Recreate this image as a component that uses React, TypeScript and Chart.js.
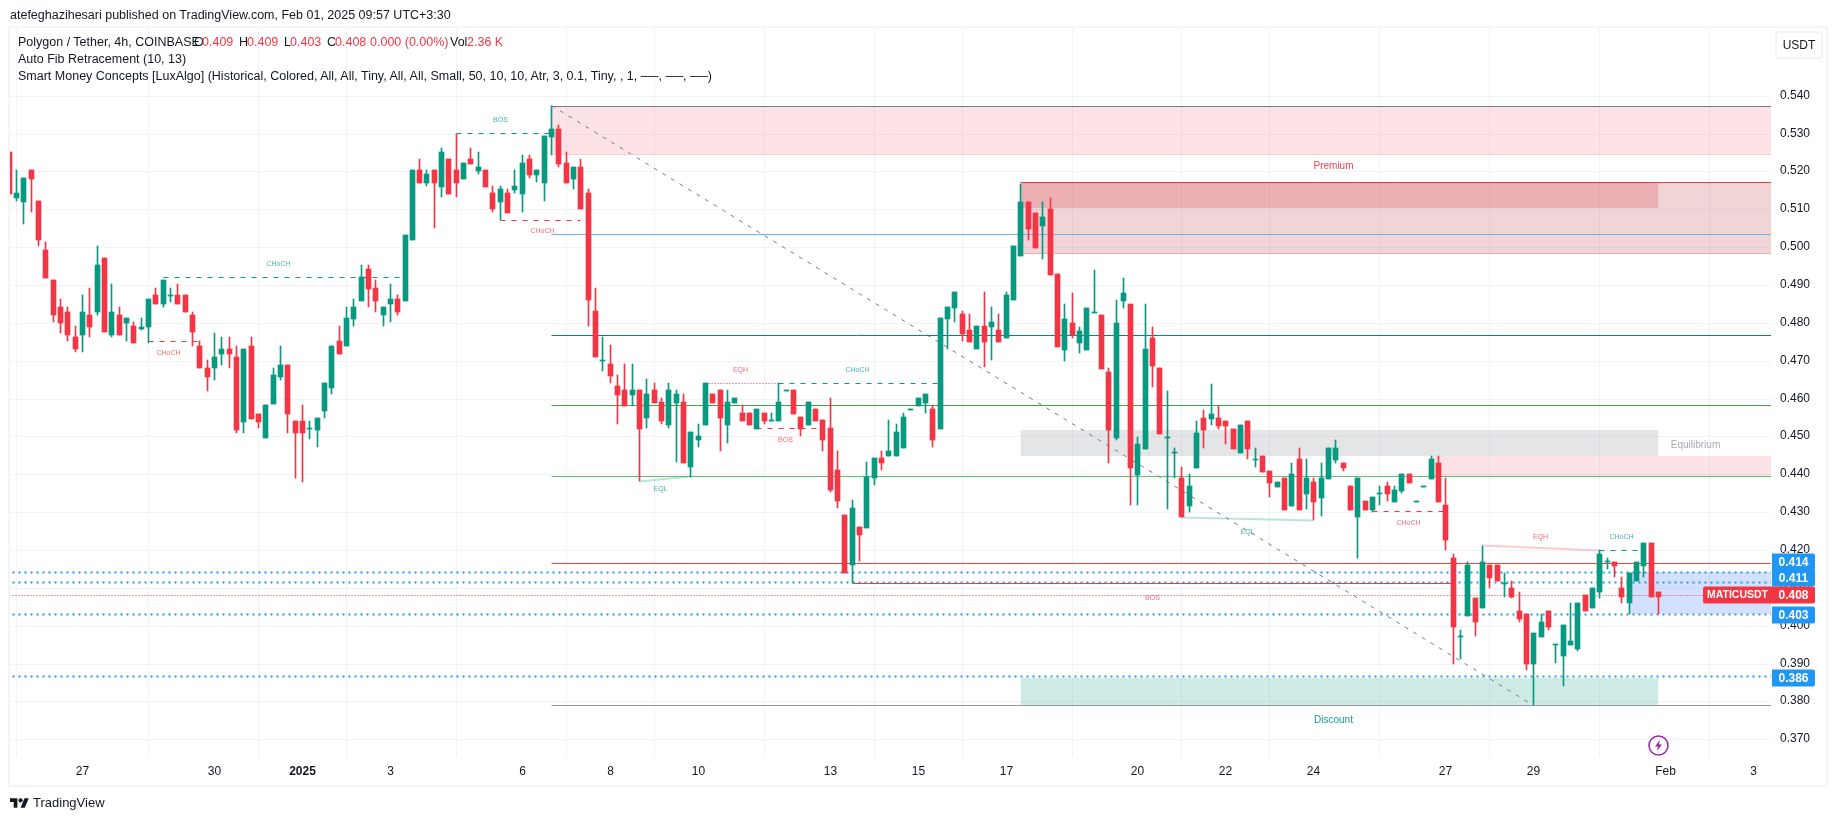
import React, { useEffect, useRef } from "react";
import { Chart, registerables, LinearScale } from "chart.js";

Chart.register(...registerables);

// ---- candle values: first entry is bar -10, bar 0 = Dec 27 (6 bars per day) ----
const firstBar = -10;
const opens = [
.5251,.5129,.5120,.5203,.5121,.4992,.4912,.4841,.4830,.4762,
.4769,.4822,.4828,.4971,.4769,.4822,.4799,.4791,.4785,.4788,
.4873,.4849,.4870,.4873,.4873,.4822,.4740,.4682,.4680,.4719,
.4732,.4711,.4539,.4740,.4560,.4497,.4587,.4658,.4690,.4542,
.4542,.4519,.4518,.4568,.4629,.4751,.4738,.4809,.4859,.4941,
.4891,.4820,.4849,.4862,.4859,.5018,.5203,.5169,.5203,.5158,
.5232,.5203,.5180,.5232,.5201,.5203,.5143,.5119,.5143,.5150,
.5140,.5232,.5190,.5169,.5291,.5312,.5222,.5180,.5212,.5143,
.4831,.4700,.4691,.4633,.4623,.4610,.4623,.4549,.4623,.4591,
.4530,.4588,.4591,.4419,.4491,.4530,.4612,.4623,.4530,.4588,
.4562,.4562,.4520,.4562,.4542,.4541,.4620,.4623,.4551,.4530,
.4573,.4543,.4522,.4411,.4293,.4161,.4261,.4258,.4390,.4443,
.4448,.4448,.4470,.4571,.4580,.4588,.4573,.4520,.4810,.4839,
.4823,.4781,.4731,.4792,.4789,.4781,.4760,.4860,.4976,.5119,
.5090,.5056,.5101,.4929,.4728,.4800,.4747,.4728,.4827,.4821,
.4670,.4496,.4858,.4850,.4398,.4467,.4760,.4681,.4497,.4457,
.4390,.4316,.4416,.4549,.4546,.4549,.4541,.4519,.4456,.4541,
.4438,.4448,.4409,.4366,.4390,.4316,.4440,.4348,.4379,.4337,
.4387,.4438,.4430,.4369,.4287,.4329,.4305,.4348,.4369,.4326,
.4356,.4401,.4327,.4367,.4387,.4430,.4319,.4180,.3970,.4027,
.4072,.4048,.4161,.4161,.4110,.4101,.4040,.4030,.3898,.3969,
.4040,.3948,.3919,.3948,.3938,.4080,.4048,.4088,.4168,.4169,
.4101,.4059,.4117,.4159,.4219,.4090];
const highs = [
.5251,.5203,.5182,.5203,.5121,.5013,.4912,.4862,.4841,.4791,
.4873,.4891,.5002,.4971,.4902,.4841,.4812,.4801,.4812,.4862,
.4891,.4912,.4891,.4902,.4873,.4830,.4751,.4701,.4772,.4762,
.4762,.4740,.4732,.4762,.4560,.4582,.4682,.4740,.4690,.4542,
.4582,.4542,.4550,.4640,.4740,.4791,.4841,.4862,.4952,.4952,
.4912,.4841,.4902,.4873,.5031,.5203,.5232,.5203,.5203,.5262,
.5232,.5300,.5222,.5262,.5251,.5203,.5161,.5161,.5153,.5203,
.5243,.5243,.5203,.5293,.5373,.5323,.5251,.5212,.5233,.5154,
.4892,.4763,.4742,.4662,.4691,.4691,.4623,.4652,.4641,.4602,
.4641,.4623,.4612,.4512,.4533,.4641,.4612,.4623,.4623,.4602,
.4583,.4562,.4573,.4562,.4562,.4641,.4622,.4623,.4551,.4591,
.4573,.4543,.4602,.4462,.4293,.4332,.4261,.4433,.4443,.4462,
.4543,.4533,.4562,.4573,.4602,.4612,.4583,.4813,.4842,.4882,
.4831,.4823,.4792,.4882,.4842,.4823,.4882,.5003,.5168,.5119,
.5090,.5119,.5130,.4929,.4850,.4879,.4789,.4839,.4939,.4821,
.4681,.4860,.4918,.4850,.4498,.4850,.4789,.4681,.4620,.4469,
.4419,.4401,.4541,.4570,.4638,.4580,.4541,.4519,.4530,.4541,
.4469,.4448,.4409,.4379,.4390,.4430,.4469,.4440,.4390,.4430,
.4469,.4490,.4430,.4369,.4390,.4329,.4340,.4369,.4379,.4369,
.4401,.4401,.4329,.4369,.4448,.4448,.4390,.4190,.3990,.4169,
.4072,.4211,.4161,.4161,.4140,.4119,.4090,.4030,.3980,.4030,
.4040,.3950,.4001,.4061,.4061,.4080,.4101,.4201,.4180,.4169,
.4130,.4140,.4169,.4219,.4219,.4090];
const lows = [
.5141,.5121,.5060,.5092,.5002,.4918,.4801,.4772,.4751,.4722,
.4722,.4762,.4822,.4777,.4762,.4769,.4751,.4748,.4780,.4748,
.4849,.4841,.4854,.4849,.4828,.4740,.4680,.4621,.4650,.4690,
.4682,.4510,.4510,.4547,.4521,.4497,.4587,.4650,.4510,.4391,
.4381,.4492,.4471,.4550,.4611,.4719,.4738,.4791,.4859,.4841,
.4830,.4791,.4801,.4822,.4859,.5018,.5169,.5161,.5050,.5132,
.5140,.5132,.5180,.5219,.5193,.5158,.5092,.5071,.5090,.5143,
.5092,.5182,.5171,.5122,.5243,.5212,.5169,.5154,.5101,.4792,
.4710,.4673,.4641,.4533,.4580,.4580,.4382,.4522,.4588,.4533,
.4522,.4433,.4430,.4393,.4472,.4530,.4588,.4462,.4483,.4588,
.4541,.4530,.4520,.4533,.4542,.4541,.4620,.4559,.4501,.4530,
.4541,.4462,.4353,.4311,.4140,.4113,.4171,.4258,.4372,.4411,
.4448,.4448,.4470,.4571,.4580,.4562,.4472,.4520,.4731,.4802,
.4752,.4749,.4789,.4683,.4702,.4749,.4760,.4860,.4976,.5019,
.4998,.4968,.4926,.4736,.4699,.4760,.4720,.4728,.4827,.4678,
.4430,.4490,.4839,.4319,.4319,.4467,.4630,.4506,.4308,.4390,
.4287,.4300,.4416,.4469,.4530,.4519,.4480,.4467,.4456,.4440,
.4419,.4406,.4340,.4366,.4305,.4316,.4305,.4308,.4279,.4290,
.4387,.4430,.4409,.4305,.4179,.4305,.4300,.4319,.4329,.4326,
.4350,.4377,.4327,.4367,.4387,.4327,.4201,.3899,.3911,.4027,
.3972,.4048,.4101,.4117,.4077,.4072,.4011,.3882,.3790,.3969,
.3990,.3901,.3840,.3948,.3932,.4038,.4048,.4072,.4151,.4130,
.4061,.4030,.4117,.4130,.4077,.4030];
const closes = [
.5141,.5143,.5182,.5180,.5018,.4918,.4820,.4799,.4769,.4730,
.4830,.4788,.4952,.4777,.4830,.4769,.4812,.4748,.4788,.4862,
.4849,.4912,.4872,.4849,.4828,.4777,.4680,.4658,.4711,.4732,
.4719,.4518,.4732,.4547,.4539,.4582,.4661,.4690,.4558,.4508,
.4508,.4521,.4550,.4640,.4740,.4719,.4812,.4841,.4920,.4889,
.4859,.4841,.4862,.4828,.5031,.5203,.5169,.5193,.5169,.5251,
.5140,.5169,.5222,.5219,.5211,.5158,.5100,.5153,.5090,.5161,
.5222,.5190,.5203,.5293,.5312,.5220,.5169,.5212,.5101,.4860,
.4710,.4702,.4660,.4610,.4580,.4623,.4520,.4612,.4588,.4541,
.4623,.4612,.4430,.4512,.4501,.4641,.4588,.4549,.4591,.4602,
.4541,.4530,.4573,.4541,.4543,.4591,.4622,.4559,.4520,.4591,
.4541,.4491,.4359,.4330,.4140,.4311,.4240,.4393,.4443,.4430,
.4462,.4512,.4551,.4573,.4602,.4612,.4491,.4813,.4842,.4882,
.4771,.4749,.4792,.4749,.4802,.4749,.4874,.5003,.5119,.5048,
.4998,.5079,.4926,.4736,.4810,.4768,.4778,.4839,.4828,.4678,
.4517,.4799,.4879,.4416,.4480,.4731,.4686,.4506,.4498,.4459,
.4287,.4369,.4509,.4517,.4559,.4527,.4527,.4467,.4530,.4467,
.4440,.4406,.4377,.4379,.4305,.4401,.4305,.4390,.4327,.4390,
.4469,.4469,.4416,.4305,.4390,.4305,.4340,.4350,.4348,.4358,
.4401,.4377,.4329,.4369,.4440,.4327,.4227,.3998,.3972,.4161,
.4009,.4169,.4127,.4117,.4111,.4077,.4019,.3898,.3980,.4011,
.3998,.3950,.4001,.3961,.4061,.4038,.4101,.4190,.4169,.4159,
.4077,.4140,.4169,.4219,.4077,.4077];

// ---- axes ----
const priceTicks = [0.37,0.38,0.39,0.40,0.41,0.42,0.43,0.44,0.45,0.46,0.47,0.48,0.49,0.50,0.51,0.52,0.53,0.54];
const dayBars = [0,18,30,42,60,72,84,102,114,126,144,156,168,186,198,216,228];
const dayLabels = ["27","30","2025","3","6","8","10","13","15","17","20","22","24","27","29","Feb","3"];
const boldDayBars = [30];
const barMin = -9.89, barMax = 230.36, priceMin = 0.36507, priceMax = 0.55788;

// ---- zones: [fromBar, toBar, priceHigh, priceLow, colour] ----
const zoneRows: [number, number, number, number, string][] = [
  [64, 232, 0.5372, 0.5244, "rgba(242,54,69,0.14)"],
  [128, 232, 0.5171, 0.4984, "rgba(180,40,50,0.2)"],
  [128, 215, 0.5171, 0.5103, "rgba(240,105,114,0.3)"],
  [128, 215, 0.4517, 0.4449, "rgba(120,123,134,0.2)"],
  [184, 232, 0.4449, 0.4395, "rgba(242,54,69,0.14)"],
  [128, 215, 0.3863, 0.379, "rgba(8,153,129,0.2)"],
  [211, 232, 0.4141, 0.4031, "rgba(41,98,255,0.2)"],
];

// ---- lines: [fromBar, priceA, toBar, priceB, colour, width, dash] ----
const GREEN = "#089981", RED = "#F23645", BLUE = "#2196F3";
const lineRows: [number, number, number, number, string, number, number[]][] = [
  [64, 0.5372, 232, 0.5372, "#787B86", 1, []],
  [64, 0.5244, 232, 0.5244, "#F8CBCE", 1, []],
  [128, 0.5171, 232, 0.5171, RED, 1, []],
  [128, 0.4984, 232, 0.4984, "#E2AEB2", 1, []],
  [64, 0.5034, 232, 0.5034, "#64B5F6", 1, []],
  [64, 0.4767, 232, 0.4767, "#00897B", 1, []],
  [64, 0.4582, 232, 0.4582, "#43A047", 1, []],
  [64, 0.4395, 232, 0.4395, "#66BB6A", 1, []],
  [64, 0.4165, 232, 0.4165, "#F44336", 1, []],
  [64, 0.379, 232, 0.379, "#9598A1", 1, []],
  [105, 0.4112, 187, 0.4112, RED, 1, []],
  [64, 0.5373, 198, 0.379, "#787B86", 1, [4, 6]],
  [-12, 0.414, 232, 0.414, BLUE, 2, [2, 4]],
  [-12, 0.4114, 232, 0.4114, BLUE, 2, [2, 4]],
  [-12, 0.4031, 232, 0.4031, BLUE, 2, [2, 4]],
  [-12, 0.3865, 232, 0.3865, BLUE, 2, [2, 4]],
  [-12, 0.4081, 232, 0.4081, RED, 1, [1, 2]],
  [51, 0.5301, 64, 0.5301, GREEN, 1, [5, 6]],
  [11, 0.492, 44, 0.492, GREEN, 1, [5, 6]],
  [9, 0.4751, 16, 0.4751, RED, 1, [5, 6]],
  [57, 0.5071, 68, 0.5071, RED, 1, [5, 6]],
  [85, 0.4641, 95, 0.4641, RED, 1, [1, 2]],
  [95, 0.4641, 117, 0.4641, GREEN, 1, [5, 6]],
  [92, 0.4521, 101, 0.4521, RED, 1, [5, 6]],
  [76, 0.4382, 83, 0.4393, "rgba(8,153,129,0.55)", 2, [1, 1]],
  [150, 0.4287, 168, 0.4279, "rgba(8,153,129,0.55)", 2, [1, 1]],
  [176, 0.4302, 186, 0.4302, RED, 1, [5, 6]],
  [191, 0.4211, 207, 0.42, "rgba(242,54,69,0.5)", 2, [1, 1]],
  [207, 0.42, 213, 0.42, GREEN, 1, [5, 6]],
];

// ---- chart texts: [text, bar, price, colour, font px] ----
const noteRows: [string, number, number, string, number][] = [
  ["BOS", 57, 0.5335, GREEN, 7],
  ["CHoCH", 26.8, 0.4955, GREEN, 7],
  ["CHoCH", 11.8, 0.472, RED, 7],
  ["CHoCH", 62.8, 0.5042, RED, 7],
  ["EQH", 89.8, 0.4675, RED, 7],
  ["CHoCH", 105.8, 0.4675, GREEN, 7],
  ["BOS", 95.9, 0.449, RED, 7],
  ["EQL", 78.9, 0.436, GREEN, 7],
  ["EQL", 158.9, 0.4248, GREEN, 7],
  ["CHoCH", 180.9, 0.4271, RED, 7],
  ["EQH", 198.9, 0.4234, RED, 7],
  ["CHoCH", 209.9, 0.4234, GREEN, 7],
  ["BOS", 146, 0.4073, RED, 7],
  ["Premium", 170.7, 0.5214, RED, 10],
  ["Equilibrium", 220, 0.4478, "#A3A6AF", 10],
  ["Discount", 170.7, 0.3752, GREEN, 10],
];

// ---- price tags on the axis: [text, anchor price, colour] ----
const tagRows: [string, number, string][] = [
  ["0.414", 0.4169, BLUE],
  ["0.411", 0.4125, BLUE],
  ["0.408", 0.4081, RED],
  ["0.403", 0.4029, BLUE],
  ["0.386", 0.3863, BLUE],
];
const symbolTag = "MATICUSDT";
const symbolTagPrice = 0.4081;

const FONT = '"Liberation Sans", Arial, sans-serif';

class SnapX extends LinearScale {
  static id = "snapx";
  getPixelForValue(v: number) { return Math.floor(super.getPixelForValue(v)) + 0.5; }
}
class SnapY extends LinearScale {
  static id = "snapy";
  getPixelForValue(v: number) { return Math.round(super.getPixelForValue(v)); }
}
class SnapYLine extends LinearScale {
  static id = "snapyline";
  getPixelForValue(v: number) { return Math.floor(super.getPixelForValue(v)) + 0.5; }
}
Chart.register(SnapX, SnapY, SnapYLine);

const overlay = {
  id: "overlay",
  afterDatasetsDraw(chart: any) {
    const { ctx, scales } = chart;
    const x = scales.x, y = scales.y;
    ctx.save();
    ctx.textAlign = "center";
    ctx.textBaseline = "middle";
    for (const [t, b, p, c, s] of noteRows) {
      ctx.font = `${s}px ${FONT}`;
      ctx.fillStyle = c;
      ctx.globalAlpha = s < 8 ? 0.75 : 0.95;
      ctx.fillText(t, x.getPixelForValue(b), y.getPixelForValue(p));
    }
    ctx.globalAlpha = 1;
    const right = x.right;
    for (const [t, p, c] of tagRows) {
      const cy = y.getPixelForValue(p);
      ctx.fillStyle = c;
      ctx.beginPath();
      ctx.roundRect(right + 1, cy - 8.5, 43, 17, [0, 2, 2, 0]);
      ctx.fill();
      ctx.fillStyle = "#fff";
      ctx.font = `bold 12px ${FONT}`;
      ctx.fillText(t, right + 22.5, cy + 0.5);
    }
    const sy = y.getPixelForValue(symbolTagPrice);
    ctx.fillStyle = RED;
    ctx.beginPath();
    ctx.roundRect(right - 68, sy - 8.5, 69, 17, [2, 0, 0, 2]);
    ctx.fill();
    ctx.fillStyle = "#fff";
    ctx.font = `bold 10.5px ${FONT}`;
    ctx.fillText(symbolTag, right - 33.5, sy + 0.5);
    ctx.restore();
  },
};

const zoneSets = zoneRows.map(([a, b, hi, lo, c]) => ({
  type: "line" as const,
  data: [{ x: a, y: hi }, { x: b, y: hi }],
  borderWidth: 0,
  borderColor: "rgba(0,0,0,0)",
  backgroundColor: c,
  fill: { value: lo },
  pointRadius: 0,
  order: 10,
  xAxisID: "x",
  yAxisID: "y",
}));
const lineSets = lineRows.map(([a, p, b, q, c, w, d]) => ({
  type: "line" as const,
  data: [{ x: a, y: p }, { x: b, y: q }],
  borderColor: c,
  borderWidth: w,
  borderDash: d,
  fill: false,
  pointRadius: 0,
  order: 5,
  xAxisID: "x",
  yAxisID: "yLine",
}));
const candleColors = opens.map((o, i) => (closes[i] >= o ? GREEN : RED));

const labelStyle: React.CSSProperties = { position: "absolute", whiteSpace: "pre", fontFamily: FONT, fontSize: 12.5, color: "#131722", lineHeight: "16px" };

function Txt({ x, y, c, children, s }: any) {
  return <span style={{ ...labelStyle, left: x, top: y - 8, color: c || "#131722", fontSize: s || 12.5 }}>{children}</span>;
}

export default function App() {
  const ref = useRef<HTMLCanvasElement>(null);
  useEffect(() => {
    document.body.style.margin = "0";
    document.body.style.background = "#fff";
    const chart = new Chart(ref.current!, {
      type: "bar",
      plugins: [overlay],
      data: {
        datasets: [
          ...zoneSets,
          ...lineSets,
          {
            type: "bar",
            data: lows.map((l, i) => ({ x: firstBar + i, y: [l, highs[i]] })),
            backgroundColor: candleColors,
            barThickness: 1,
            grouped: false,
            minBarLength: 1,
            order: 2,
            xAxisID: "x",
            yAxisID: "y",
          },
          {
            type: "bar",
            data: opens.map((o, i) => ({ x: firstBar + i, y: [o, closes[i]] })),
            backgroundColor: candleColors,
            barThickness: 5,
            grouped: false,
            minBarLength: 1,
            order: 1,
            xAxisID: "x",
            yAxisID: "y",
          },
        ] as any,
      },
      options: {
        responsive: false,
        animation: false,
        events: [],
        layout: { padding: { left: 10, top: 28, right: 0, bottom: 0 } },
        plugins: { legend: { display: false }, tooltip: { enabled: false } },
        scales: {
          x: {
            type: "snapx" as any,
            min: barMin,
            max: barMax,
            offset: false,
            afterBuildTicks: (s: any) => { s.ticks = dayBars.map((v) => ({ value: v })); },
            afterFit: (s: any) => { s.height = 63; },
            grid: { color: "#F0F3FA", drawTicks: false },
            border: { display: false },
            ticks: {
              autoSkip: false,
              maxRotation: 0,
              padding: 6,
              color: "#131722",
              font: (c: any) => ({ family: FONT, size: 12, weight: boldDayBars.includes(c.tick?.value) ? "bold" : "normal" }),
              callback: (v: any) => dayLabels[dayBars.indexOf(v)] ?? "",
            },
          },
          y: {
            type: "snapy" as any,
            position: "right",
            min: priceMin,
            max: priceMax,
            afterBuildTicks: (s: any) => { s.ticks = priceTicks.map((v) => ({ value: v })); },
            afterFit: (s: any) => { s.width = 64; },
            grid: { color: "#F0F3FA", drawTicks: false },
            border: { display: false },
            ticks: {
              padding: 9,
              color: "#131722",
              font: { family: FONT, size: 12 },
              callback: (v: any) => Number(v).toFixed(3),
            },
          },
          yLine: {
            type: "snapyline" as any,
            position: "right",
            display: false,
            min: priceMin,
            max: priceMax,
          },
        },
      } as any,
    });
    return () => chart.destroy();
  }, []);
  return (
    <div style={{ position: "absolute", left: 0, top: 0, width: 1835, height: 821, overflow: "hidden", background: "#fff" }}>
      <div style={{ position: "absolute", left: 8, top: 26, width: 1816, height: 757, border: "2px solid #F3F4F6" }} />
      <canvas ref={ref} width={1835} height={821} style={{ position: "absolute", left: 0, top: 0, width: 1835, height: 821 }} />
      <Txt x={10} y={15}>atefeghazihesari published on TradingView.com, Feb 01, 2025 09:57 UTC+3:30</Txt>
      <Txt x={18} y={42}>Polygon / Tether, 4h, COINBASE</Txt>
      <Txt x={194} y={42}>O</Txt><Txt x={202} y={42} c={RED}>0.409</Txt>
      <Txt x={239} y={42}>H</Txt><Txt x={247} y={42} c={RED}>0.409</Txt>
      <Txt x={284} y={42}>L</Txt><Txt x={290} y={42} c={RED}>0.403</Txt>
      <Txt x={327} y={42}>C</Txt><Txt x={335} y={42} c={RED}>0.408</Txt>
      <Txt x={370} y={42} c={RED}>0.000 (0.00%)</Txt>
      <Txt x={450} y={42}>Vol</Txt><Txt x={467} y={42} c={RED}>2.36 K</Txt>
      <Txt x={18} y={59}>Auto Fib Retracement (10, 13)</Txt>
      <Txt x={18} y={76}>Smart Money Concepts [LuxAlgo] (Historical, Colored, All, All, Tiny, All, All, Small, 50, 10, 10, Atr, 3, 0.1, Tiny, , 1, ──, ──, ──)</Txt>
      <div style={{ position: "absolute", left: 1775, top: 31, width: 44, height: 24, border: "2px solid #F0F3FA", borderRadius: 4, fontFamily: FONT, fontSize: 12, color: "#131722", textAlign: "center", lineHeight: "24px" }}>USDT</div>
      <svg style={{ position: "absolute", left: 10, top: 797 }} width={19} height={12} viewBox="0 4 36 18">
        <path d="M14 22H7V11H0V4h14v18zM28 22h-8l7.5-18h8L28 22z" fill="#131722" />
        <circle cx={20} cy={8} r={4} fill="#131722" />
      </svg>
      <Txt x={33} y={803} s={13}>TradingView</Txt>
      <svg style={{ position: "absolute", left: 1648, top: 735 }} width={21} height={21} viewBox="0 0 21 21">
        <circle cx={10.5} cy={10.5} r={9.5} fill="none" stroke="#9C27B0" strokeWidth={1.6} />
        <path d="M12 5l-5 6.5h3L9 16l5-6.5h-3z" fill="#9C27B0" />
      </svg>
    </div>
  );
}
